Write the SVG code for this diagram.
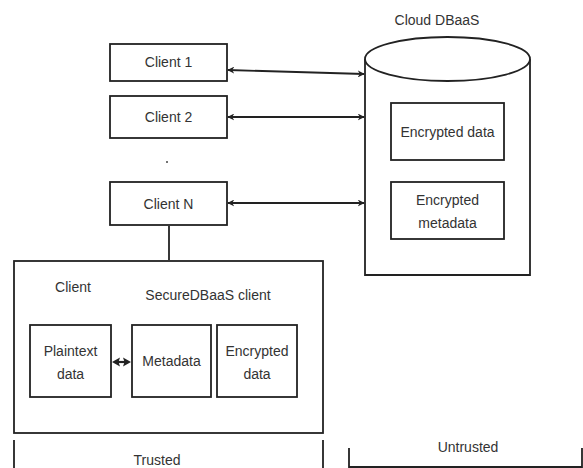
<svg xmlns="http://www.w3.org/2000/svg" width="583" height="468" viewBox="0 0 583 468">
<style>
.b{fill:#fff;stroke:#222;stroke-width:1.8}
.l{fill:none;stroke:#222;stroke-width:1.8}
.t{font-family:"Liberation Sans",Arial,sans-serif;font-size:14px;fill:#333;text-anchor:middle}
</style>
<defs>
<marker id="a" viewBox="0 0 10 10" refX="9" refY="5" markerWidth="7" markerHeight="7" orient="auto-start-reverse" markerUnits="userSpaceOnUse">
<path d="M0,0 L10,5 L0,10 L3,5 Z" fill="#222"/>
</marker>
</defs>
<rect width="583" height="468" fill="#fff"/>
<g id="cloud">
<path class="b" d="M365,59 L365,275 L530,275 L530,59"/>
<ellipse class="b" cx="447.5" cy="59" rx="82.5" ry="22"/>
<text class="t" x="437" y="25">Cloud DBaaS</text>
</g>
<g id="enc-data">
<rect class="b" x="391" y="103" width="113" height="57"/>
<text class="t" x="447.5" y="137">Encrypted data</text>
</g>
<g id="enc-meta">
<rect class="b" x="391" y="182" width="113" height="57"/>
<text class="t" x="447.5" y="205">Encrypted</text>
<text class="t" x="447.5" y="228">metadata</text>
</g>
<g id="client1">
<rect class="b" x="110" y="44" width="117" height="37"/>
<text class="t" x="168.5" y="67">Client 1</text>
</g>
<g id="client2">
<rect class="b" x="110" y="96" width="117" height="42"/>
<text class="t" x="168.5" y="122">Client 2</text>
</g>
<circle cx="167" cy="162" r="1" fill="#444"/>
<g id="clientN">
<rect class="b" x="110" y="182" width="117" height="43"/>
<text class="t" x="168.5" y="209">Client N</text>
</g>
<g id="client">
<rect class="b" x="14" y="261" width="309" height="172"/>
<text class="t" x="73" y="292">Client</text>
<text class="t" x="208" y="300">SecureDBaaS client</text>
</g>
<g id="plaintext">
<rect class="b" x="30" y="325" width="81" height="72"/>
<text class="t" x="70.5" y="356">Plaintext</text>
<text class="t" x="70.5" y="379">data</text>
</g>
<g id="metadata">
<rect class="b" x="132" y="325" width="79" height="72"/>
<text class="t" x="171.5" y="366">Metadata</text>
</g>
<g id="client-enc">
<rect class="b" x="217" y="325" width="80" height="72"/>
<text class="t" x="257" y="356">Encrypted</text>
<text class="t" x="257" y="379">data</text>
</g>
<g id="trusted">
<path class="l" d="M14,440 L14,468 M323,440 L323,468"/>
<text class="t" x="157" y="465">Trusted</text>
</g>
<g id="untrusted">
<path class="l" d="M349,448 L349,467 L582,467 L582,448"/>
<text class="t" x="468" y="452">Untrusted</text>
</g>
<g id="connectors">
<line class="l" x1="228" y1="70" x2="364" y2="74" marker-start="url(#a)" marker-end="url(#a)"/>
<line class="l" x1="228" y1="117" x2="364" y2="117" marker-start="url(#a)" marker-end="url(#a)"/>
<line class="l" x1="228" y1="203" x2="364" y2="203" marker-start="url(#a)" marker-end="url(#a)"/>
<line class="l" x1="169" y1="226" x2="169" y2="260"/>
<line x1="115" y1="362" x2="128" y2="362" stroke="#222" stroke-width="2.2"/>
<path d="M112,362 L120,357.5 L118.5,362 L120,366.5 Z M131,362 L123,357.5 L124.5,362 L123,366.5 Z" fill="#222"/>
</g>
</svg>
